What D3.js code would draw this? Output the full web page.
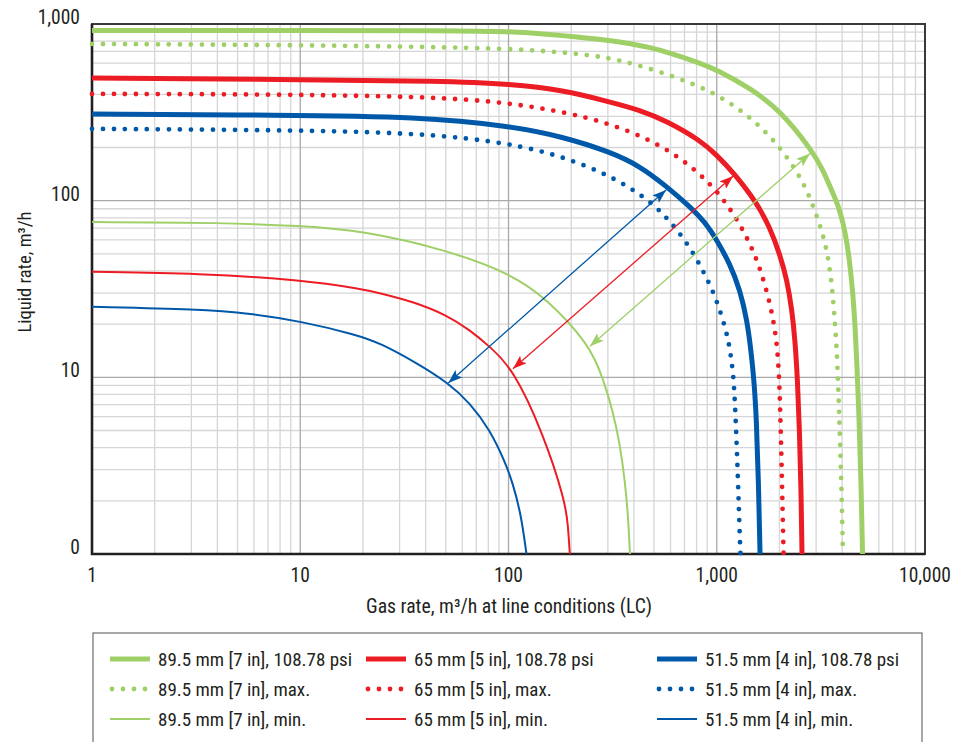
<!DOCTYPE html>
<html>
<head>
<meta charset="utf-8">
<script src="https://cdn.jsdelivr.net/npm/d3@7"></script>
<style>
  body { margin: 0; background: #fff; }
  svg text { font-family: "Liberation Sans Narrow", "Roboto Condensed", "Roboto", sans-serif; fill: #231f20; }
</style>
</head>
<body>
<svg id="chart" width="966" height="742"></svg>
<script>
// Gas rate (x) vs liquid rate (y)

const GREEN = "#9fcf67";
const RED = "#ec1c24";
const BLUE = "#0058a9";

// 89.5 mm [7 in]
const green108 = [[1, 920], [10, 920], [52.4, 918], [101.7, 907], [152.5, 878], [275, 822],
  [396, 771], [478, 736], [577, 694], [832, 601], [1000, 550], [1445, 434], [2013, 326],
  [2898, 189], [3236, 149], [3614, 110], [3820, 94.5], [4037, 75.7], [4218, 58.3],
  [4366, 43.2], [4511, 29.2], [4613, 19.8], [4714, 11.7], [4819, 6.12], [4927, 2.62], [5012, 1]];
const greenMax = [[1, 771], [10, 760], [101.7, 731], [197, 685], [284, 653], [405, 594],
  [642, 499], [946, 414], [1294, 329], [1706, 249], [2152, 181], [2624, 126], [2999, 84.8],
  [3348, 56.9], [3566, 34.8], [3667, 22.5], [3766, 14.8], [3820, 9.57], [3909, 4.42],
  [3985, 2.02], [4037, 1]];
const greenMin = [[1, 75.7], [4.26, 75], [10, 72.1], [20, 67.6], [50.5, 52.6], [101.7, 38.8],
  [152.5, 28], [246, 15.2], [284, 9.9], [318, 6.37], [343, 4.14], [362, 2.62], [375, 1.66], [383, 1]];

// 65 mm [5 in]
const red108 = [[1, 495], [8, 486], [50.7, 476], [101.7, 457], [183, 423], [307, 362], [428, 326],
  [577, 282], [832, 220], [1000, 181], [1211, 143], [1560, 97], [1803, 70], [2013, 49.3],
  [2174, 35.6], [2297, 24], [2376, 16.3], [2443, 9.66], [2496, 5.03], [2540, 2.3], [2567, 1]];
const redMax = [[1, 402], [8, 400], [46.9, 386], [101.7, 357], [183, 318], [284, 280], [441, 232],
  [671, 176], [962, 121], [1197, 85.7], [1429, 59.1], [1633, 40.2], [1828, 24.6], [1941, 16.1],
  [1991, 10.5], [2017, 6.53], [2047, 3.4], [2071, 1.77], [2094, 1]];
const redMin = [[1, 39.6], [3.3, 38.8], [10, 35.6], [20, 31.6], [24.2, 29.9], [34.9, 26.8],
  [50.5, 22.5], [65.3, 18.5], [81.5, 14.9], [105, 11.2], [147, 4.8], [187, 2], [193, 1.46], [197, 1]];

// 51.5 mm [4 in]
const blue108 = [[1, 309], [8, 305], [37.6, 299], [101.7, 265], [183, 230], [307, 189], [428, 157],
  [571, 121], [728, 94.5], [879, 75.7], [1000, 59.9], [1158, 43.8], [1294, 31.2], [1397, 21.1],
  [1459, 14.3], [1510, 9.66], [1552, 5.74], [1585, 2.62], [1614, 1]];
const blueMax = [[1, 255], [8, 251], [37.6, 242], [101.7, 212], [183, 177], [275, 146], [380, 120],
  [501, 94.5], [592, 77.1], [687, 62.1], [787, 48.6], [879, 38], [973, 29.6], [1069, 21.4],
  [1137, 16.3], [1180, 12.3], [1211, 9.25], [1237, 5.26], [1265, 2.6], [1289, 1.28], [1300, 1]];
const blueMin = [[1, 25.1], [3.3, 24.3], [5.74, 23], [10, 20.8], [18.7, 17.4], [24.2, 15.6],
  [35.6, 12.2], [51.4, 9.3], [65.3, 7.16], [81.5, 5.03], [96.2, 3.32], [105, 2.51], [115, 1.66], [122, 1]];

// double arrows between min and max curves
const arrows = [
  { color: BLUE, from: [51.4, 9.3], to: [571, 115] },
  { color: RED, from: [105, 11.2], to: [1200, 138] },
  { color: GREEN, from: [246, 15], to: [2805, 185] },
];

const xTicks = [1, 10, 100, 1000, 10000];
const xTickLabels = ["1", "10", "100", "1,000", "10,000"];
const yTicks = [1, 10, 100, 1000];
const yTickLabels = ["0", "10", "100", "1,000"];

const series = [
  { name: "89.5 mm [7 in], 108.78 psi", data: green108, color: GREEN, kind: "thick" },
  { name: "89.5 mm [7 in], max.", data: greenMax, color: GREEN, kind: "dots" },
  { name: "89.5 mm [7 in], min.", data: greenMin, color: GREEN, kind: "thin" },
  { name: "65 mm [5 in], 108.78 psi", data: red108, color: RED, kind: "thick" },
  { name: "65 mm [5 in], max.", data: redMax, color: RED, kind: "dots" },
  { name: "65 mm [5 in], min.", data: redMin, color: RED, kind: "thin" },
  { name: "51.5 mm [4 in], 108.78 psi", data: blue108, color: BLUE, kind: "thick" },
  { name: "51.5 mm [4 in], max.", data: blueMax, color: BLUE, kind: "dots" },
  { name: "51.5 mm [4 in], min.", data: blueMin, color: BLUE, kind: "thin" },
];

const styles = {
  thick: { width: 5, dash: null },
  dots: { width: 4.8, dash: "0 11" },
  thin: { width: 2, dash: null },
};

const svg = d3.select("#chart");
const plot = { left: 92, right: 925, top: 24, bottom: 554 };

const x = d3.scaleLog().domain([1, 10000]).range([plot.left, plot.right]);
const y = d3.scaleLog().domain([1, 1000]).range([plot.bottom, plot.top]);

// ---------------------------
// Grid
// ---------------------------
function minorValues(lo, hi) {
  const out = [];
  for (let p = lo; p < hi; p *= 10) {
    for (let k = 2; k <= 9; k++) out.push(p * k);
  }
  return out;
}

const grid = svg.append("g");
grid.selectAll(".vminor")
  .data(minorValues(1, 10000))
  .join("line")
  .attr("x1", (d) => x(d)).attr("x2", (d) => x(d))
  .attr("y1", plot.top).attr("y2", plot.bottom)
  .attr("stroke", "#d6d6d6").attr("stroke-width", 1.3);
grid.selectAll(".hminor")
  .data(minorValues(1, 1000))
  .join("line")
  .attr("y1", (d) => y(d)).attr("y2", (d) => y(d))
  .attr("x1", plot.left).attr("x2", plot.right)
  .attr("stroke", "#d6d6d6").attr("stroke-width", 1.3);
grid.selectAll(".vmajor")
  .data([10, 100, 1000])
  .join("line")
  .attr("x1", (d) => x(d)).attr("x2", (d) => x(d))
  .attr("y1", plot.top).attr("y2", plot.bottom)
  .attr("stroke", "#a9a9a9").attr("stroke-width", 1.3);
grid.selectAll(".hmajor")
  .data([10, 100])
  .join("line")
  .attr("y1", (d) => y(d)).attr("y2", (d) => y(d))
  .attr("x1", plot.left).attr("x2", plot.right)
  .attr("stroke", "#a9a9a9").attr("stroke-width", 1.3);

// frame
svg.append("rect")
  .attr("x", plot.left).attr("y", plot.top)
  .attr("width", plot.right - plot.left).attr("height", plot.bottom - plot.top)
  .attr("fill", "none").attr("stroke", "#3a3a3a").attr("stroke-width", 2);
svg.append("path")
  .attr("d", `M${plot.left},${plot.top} V${plot.bottom} H${plot.right}`)
  .attr("fill", "none").attr("stroke", "#231f20").attr("stroke-width", 2.6);

// ---------------------------
// Curves
// ---------------------------
const line = d3.line()
  .x((d) => x(d[0]))
  .y((d) => y(d[1]))
  .curve(d3.curveBasis);

const curves = svg.append("g");
curves.selectAll("path")
  .data(series)
  .join("path")
  .attr("d", (d) => line(d.data))
  .attr("fill", "none")
  .attr("stroke", (d) => d.color)
  .attr("stroke-width", (d) => styles[d.kind].width)
  .attr("stroke-dasharray", (d) => styles[d.kind].dash)
  .attr("stroke-linecap", (d) => (d.kind === "dots" ? "round" : "butt"));

// ---------------------------
// Arrows
// ---------------------------
const defs = svg.append("defs");
arrows.forEach((a, i) => {
  defs.append("marker")
    .attr("id", "head" + i)
    .attr("viewBox", "0 0 14 10")
    .attr("refX", 14).attr("refY", 5)
    .attr("markerWidth", 14).attr("markerHeight", 10)
    .attr("markerUnits", "userSpaceOnUse")
    .attr("orient", "auto-start-reverse")
    .append("path")
    .attr("d", "M0,0 L14,5 L0,10 L3,5 Z")
    .attr("fill", a.color);
});

svg.append("g")
  .selectAll("line")
  .data(arrows)
  .join("line")
  .attr("x1", (d) => x(d.from[0])).attr("y1", (d) => y(d.from[1]))
  .attr("x2", (d) => x(d.to[0])).attr("y2", (d) => y(d.to[1]))
  .attr("stroke", (d) => d.color)
  .attr("stroke-width", 1.3)
  .attr("marker-start", (d, i) => `url(#head${i})`)
  .attr("marker-end", (d, i) => `url(#head${i})`);

// ---------------------------
// Axis labels
// ---------------------------
svg.append("g")
  .selectAll("text")
  .data(yTicks)
  .join("text")
  .attr("x", 80)
  .attr("y", (d) => y(d))
  .attr("text-anchor", "end")
  .attr("font-size", 19.5)
  .text((d, i) => yTickLabels[i]);

svg.append("g")
  .selectAll("text")
  .data(xTicks)
  .join("text")
  .attr("x", (d) => x(d))
  .attr("y", 582)
  .attr("text-anchor", "middle")
  .attr("font-size", 19.5)
  .text((d, i) => xTickLabels[i]);

svg.append("text")
  .attr("x", 509)
  .attr("y", 613)
  .attr("text-anchor", "middle")
  .attr("font-size", 19.7)
  .text("Gas rate, m³/h at line conditions (LC)");

svg.append("text")
  .attr("transform", "translate(31,272) rotate(-90)")
  .attr("text-anchor", "middle")
  .attr("font-size", 18.5)
  .text("Liquid rate, m³/h");

// ---------------------------
// Legend
// ---------------------------
svg.append("rect")
  .attr("x", 93).attr("y", 633)
  .attr("width", 829).attr("height", 140)
  .attr("fill", "none").attr("stroke", "#6d6d6d").attr("stroke-width", 1.2);

const colX = [110, 366, 657];
const rowY = [659, 689, 719];

const legend = svg.append("g")
  .selectAll("g")
  .data(series)
  .join("g")
  .attr("transform", (d, i) => `translate(${colX[Math.floor(i / 3)]},${rowY[i % 3]})`);

legend.append("line")
  .attr("x1", (d) => (d.kind === "dots" ? 2 : 0))
  .attr("x2", 40)
  .attr("stroke", (d) => d.color)
  .attr("stroke-width", (d) => styles[d.kind].width)
  .attr("stroke-dasharray", (d) => (d.kind === "dots" ? "0 11" : null))
  .attr("stroke-linecap", (d) => (d.kind === "dots" ? "round" : "butt"));

legend.append("text")
  .attr("x", 48)
  .attr("dy", "0.35em")
  .attr("font-size", 19)
  .text((d) => d.name);
</script>
</body>
</html>
